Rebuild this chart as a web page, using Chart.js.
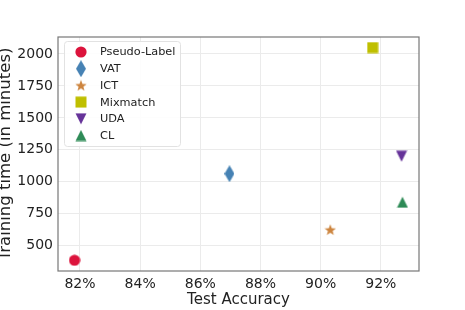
<!DOCTYPE html>
<html>
<head>
<meta charset="utf-8">
<script src="https://cdn.jsdelivr.net/npm/chart.js@4"></script>
<style>
  html, body { margin: 0; padding: 0; background: #fff; }
  #wrap { width: 465px; height: 310px; }
</style>
</head>
<body>
<div id="wrap"><canvas id="chart" width="465" height="310"></canvas></div>
<script>
// methods and measured values
const methods = ['Pseudo-Label', 'VAT', 'ICT', 'Mixmatch', 'UDA', 'CL'];
const accuracy = [81.82, 86.97, 90.32, 91.73, 92.69, 92.72];
const trainMinutes = [386, 1063, 625, 2050, 1200, 840];
const colors = ['#dc143c', '#4682b4', '#cd853f', '#bfbf00', '#663399', '#2e8b57'];
const shapes = ['circle', 'diamond', 'star', 'square', 'triDown', 'triUp'];

const xTicks = [82, 84, 86, 88, 90, 92];
const yTicks = [500, 750, 1000, 1250, 1500, 1750, 2000];

const FONT = '"DejaVu Sans", sans-serif';

// marker images (Chart.js has no filled star / thin diamond)
function makeMarker(shape, color) {
  const c = document.createElement('canvas');
  let w = 12, h = 12;
  if (shape === 'diamond') { w = 10; h = 17; }
  c.width = w; c.height = h;
  const g = c.getContext('2d');
  g.fillStyle = color;
  g.beginPath();
  if (shape === 'circle') {
    g.arc(w / 2, h / 2, 5.6, 0, Math.PI * 2);
  } else if (shape === 'diamond') {
    g.moveTo(w / 2, 0); g.lineTo(w, h / 2); g.lineTo(w / 2, h); g.lineTo(0, h / 2);
  } else if (shape === 'square') {
    g.rect(0.5, 0.5, 11, 11);
  } else if (shape === 'triDown') {
    g.moveTo(0.5, 0.5); g.lineTo(11.5, 0.5); g.lineTo(6, 11.5);
  } else if (shape === 'triUp') {
    g.moveTo(6, 0.5); g.lineTo(11.5, 11.5); g.lineTo(0.5, 11.5);
  } else if (shape === 'star') {
    const R = 6, r = 2.5;
    for (let i = 0; i < 10; i++) {
      const a = -Math.PI / 2 + i * Math.PI / 5;
      const rr = i % 2 === 0 ? R : r;
      g.lineTo(6 + rr * Math.cos(a), 6.5 + rr * Math.sin(a));
    }
  }
  g.closePath();
  g.fill();
  return c;
}

const markers = shapes.map((s, i) => makeMarker(s, colors[i]));

const datasets = methods.map((m, i) => ({
  label: m,
  data: [{ x: accuracy[i], y: trainMinutes[i] }],
  pointStyle: markers[i],
  backgroundColor: colors[i],
  borderColor: colors[i]
}));

// legend box inside the plot, top-left
const insideLegend = {
  id: 'insideLegend',
  afterDatasetsDraw(chart) {
    const ctx = chart.ctx;
    const area = chart.chartArea;
    const x0 = area.left + 6, y0 = area.top + 4;
    const w = 116, h = 105, rowH = 16.7;
    ctx.save();
    ctx.fillStyle = 'rgba(255,255,255,0.9)';
    ctx.strokeStyle = '#e2e2e2';
    ctx.lineWidth = 1;
    ctx.beginPath();
    ctx.roundRect(x0 + 0.5, y0 + 0.5, w, h, 3);
    ctx.fill();
    ctx.stroke();
    ctx.font = '11.3px ' + FONT;
    ctx.fillStyle = '#222';
    ctx.textBaseline = 'middle';
    chart.data.datasets.forEach((ds, i) => {
      const cy = y0 + 11 + i * rowH;
      const img = ds.pointStyle;
      ctx.drawImage(img, x0 + 17 - img.width / 2, cy - img.height / 2);
      ctx.fillText(ds.label, x0 + 36, cy + 0.5);
    });
    ctx.restore();
  }
};

// full frame around the plot
const frame = {
  id: 'frame',
  afterDraw(chart) {
    const a = chart.chartArea;
    const ctx = chart.ctx;
    ctx.save();
    ctx.strokeStyle = '#777';
    ctx.lineWidth = 1.2;
    ctx.strokeRect(a.left, a.top, a.right - a.left, a.bottom - a.top);
    ctx.restore();
  }
};

new Chart(document.getElementById('chart'), {
  type: 'scatter',
  data: { datasets: datasets },
  options: {
    responsive: false,
    animation: false,
    layout: { padding: { top: 37, right: 46, left: 0, bottom: 0 } },
    plugins: {
      legend: { display: false },
      tooltip: { enabled: false }
    },
    elements: { point: { radius: 6 } },
    scales: {
      x: {
        min: 81.27,
        max: 93.27,
        afterBuildTicks: axis => { axis.ticks = xTicks.map(v => ({ value: v })); },
        afterFit: axis => { axis.height = 39; },
        grid: { color: '#ebebeb', drawTicks: false },
        border: { display: false },
        ticks: {
          padding: 5,
          color: '#222',
          font: { family: FONT, size: 14 },
          callback: v => v + '%'
        },
        title: {
          display: true,
          text: 'Test Accuracy',
          color: '#222',
          font: { family: FONT, size: 15 },
          padding: { top: 0, bottom: 1 }
        }
      },
      y: {
        min: 302,
        max: 2133,
        afterBuildTicks: axis => { axis.ticks = yTicks.map(v => ({ value: v })); },
        afterFit: axis => { axis.width = 58; },
        grid: { color: '#ebebeb', drawTicks: false },
        border: { display: false },
        ticks: {
          padding: 5,
          color: '#222',
          font: { family: FONT, size: 14 },
          callback: v => String(v)
        },
        title: {
          display: true,
          text: 'Training time (in minutes)',
          color: '#222',
          font: { family: FONT, size: 16.5 },
          padding: { top: -4, bottom: 0 }
        }
      }
    }
  },
  plugins: [insideLegend, frame]
});
</script>
</body>
</html>
